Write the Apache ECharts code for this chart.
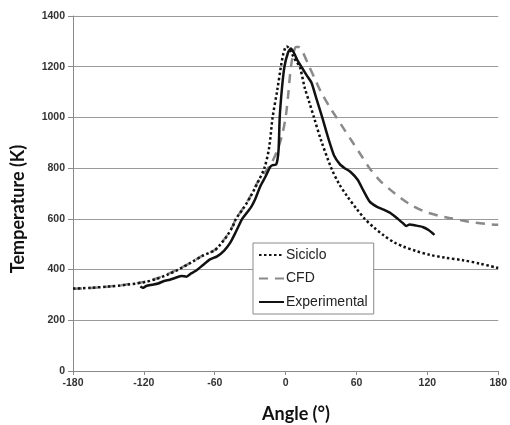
<!DOCTYPE html>
<html>
<head>
<meta charset="utf-8">
<script src="https://cdn.jsdelivr.net/npm/echarts@6/dist/echarts.min.js"></script>
<style>
html,body{margin:0;padding:0;background:#fff;}
#chart{width:510px;height:425px;}
</style>
</head>
<body>
<div id="chart"></div>
<script>
// ---- Data ----
const xTicks = [-180, -120, -60, 0, 60, 120, 180];
const yTicks = [0, 200, 400, 600, 800, 1000, 1200, 1400];

const siciloAngles = [-180,-165,-150,-135,-120,-110,-100,-90,-80,-70,-60,-55,-50,-45,-42,-36,-30,-24,-18,-14,-11,-7,-4,-2,0,1,3,6,9,12,16,20,24,30,38.7,45,52,60,67,75,83,92,100,110,122,135,150,165,180];
const siciloTemps  = [325,328,333,340,350,362,380,402,428,455,476,500,530,568,600,640,685,740,800,880,1000,1110,1200,1250,1278,1280,1272,1245,1220,1200,1120,1060,1000,910,800,740,690,640,600,565,535,507,490,474,458,447,437,423,406];

const cfdAngles = [-180,-165,-150,-135,-120,-110,-100,-90,-80,-70,-60,-55,-50,-45,-42,-36,-30,-24,-18,-12,-7,-3,0,2,4.5,7,9,11,14,20,25,30,37,43,50,57,64,71,80,92,105,117,130,140,155,172,180];
const cfdTemps  = [324,327,333,341,351,364,382,404,428,456,477,502,532,570,600,642,688,742,780,820,870,930,1000,1080,1200,1260,1278,1278,1262,1200,1150,1100,1043,1000,950,900,850,800,750,702,658,630,612,602,589,579,577];

const expAngles = [-123,-121,-118,-113,-108,-103,-98,-93,-88,-84,-80,-76,-70,-64,-58,-52,-47,-42,-37,-33,-29,-26,-21.5,-17,-13,-11,-8,-6,-5,-3,-1,2,4.5,7,10,14,18,22,26,31,36,41,46,50,55,61,66,71,77,83,89,95,100,102,105,110,116,121,126];
const expTemps  = [333,328,335,340,345,355,360,368,375,372,385,395,418,440,452,475,505,550,598,623,648,675,728,767,805,812,814,870,1000,1120,1200,1255,1272,1255,1225,1195,1165,1136,1075,1000,920,850,815,800,785,754,710,669,648,636,622,600,580,572,578,574,568,556,537];

function zip(a, b) { return a.map((v, i) => [v, b[i]]); }

const chart = echarts.init(document.getElementById('chart'), null, {renderer: 'canvas'});

const tickFont = {fontFamily: 'Liberation Sans, Arial, sans-serif', fontWeight: 'bold', fontSize: 10.5, color: '#333'};

chart.setOption({
  animation: false,
  backgroundColor: '#ffffff',
  grid: {left: 73, right: 8, top: 16, bottom: 54, containLabel: false},
  xAxis: {
    type: 'value', min: xTicks[0], max: xTicks[xTicks.length - 1], interval: 60,
    axisLine: {show: true, onZero: false, lineStyle: {color: '#8a8a8a', width: 1}},
    axisTick: {show: true, inside: false, length: 4, lineStyle: {color: '#8a8a8a'}},
    axisLabel: Object.assign({margin: 7, formatter: v => String(v)}, tickFont),
    splitLine: {show: false}
  },
  yAxis: {
    type: 'value', min: yTicks[0], max: yTicks[yTicks.length - 1], interval: 200,
    axisLine: {show: true, onZero: false, lineStyle: {color: '#8a8a8a', width: 1}},
    axisTick: {show: true, inside: false, length: 5, lineStyle: {color: '#8a8a8a'}},
    axisLabel: Object.assign({margin: 8, formatter: v => String(v)}, tickFont),
    splitLine: {show: true, lineStyle: {color: '#9a9a9a', width: 1}}
  },
  legend: {
    orient: 'vertical', left: 253, top: 243,
    padding: [5, 6, 5, 5],
    icon: 'inherit',
    itemWidth: 25, itemHeight: 14, itemGap: 9.5,
    itemStyle: {opacity: 0, borderWidth: 0},
    backgroundColor: '#ffffff', borderColor: '#8a8a8a', borderWidth: 1, borderRadius: 0,
    textStyle: {fontFamily: 'Liberation Sans, Arial, sans-serif', fontSize: 14, color: '#222', padding: [0, 0, 0, -3]},
    data: ['Siciclo', 'CFD', 'Experimental']
  },
  graphic: [
    {type: 'text', x: 18.5, y: 209, rotation: Math.PI / 2,
     style: {text: 'Temperature (K)', font: 'bold 18px Lato, "Open Sans", sans-serif', fill: '#111', textAlign: 'center', textVerticalAlign: 'middle'}},
    {type: 'text', x: 296, y: 414,
     style: {text: 'Angle (°)', font: 'bold 18px Lato, "Open Sans", sans-serif', fill: '#111', textAlign: 'center', textVerticalAlign: 'middle'}}
  ],
  series: [
    {name: 'Siciclo', type: 'line', data: zip(siciloAngles, siciloTemps), showSymbol: false, symbol: 'none', smooth: 0.3,
     lineStyle: {color: '#111', width: 2.5, type: [2.5, 2.5]}, itemStyle: {color: '#111'}, z: 3},
    {name: 'CFD', type: 'line', data: zip(cfdAngles, cfdTemps), showSymbol: false, symbol: 'none', smooth: 0.3,
     lineStyle: {color: '#8a8a8a', width: 2.5, type: [9, 7]}, itemStyle: {color: '#8a8a8a'}, z: 2},
    {name: 'Experimental', type: 'line', data: zip(expAngles, expTemps), showSymbol: false, symbol: 'none', smooth: 0.2,
     lineStyle: {color: '#111', width: 2.5, type: 'solid'}, itemStyle: {color: '#111'}, z: 4}
  ]
});
</script>
</body>
</html>
